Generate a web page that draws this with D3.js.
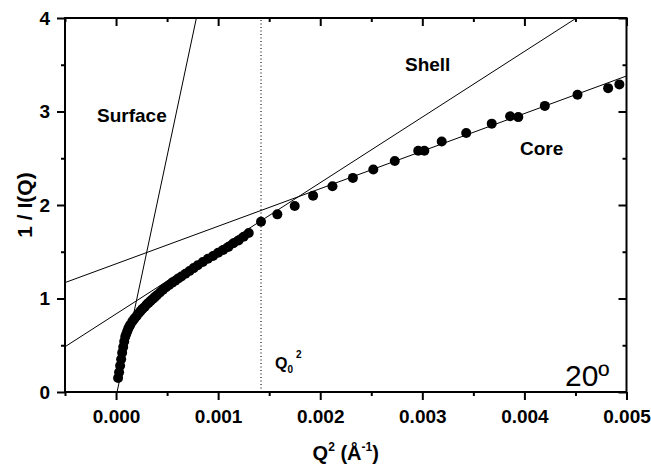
<!DOCTYPE html>
<html><head><meta charset="utf-8">
<script src="https://cdn.jsdelivr.net/npm/d3@7"></script>
<style>
body{margin:0;background:#fff;}
svg{display:block;}
text{font-family:"Liberation Sans",Arial,sans-serif;fill:#000;}
</style></head>
<body><svg id="c" width="651" height="468"></svg>
<script>
// Data (Q^2 in Å^-2, 1/I(Q))
const q2 = [0.00002,0.00003,0.00004,0.00005,0.00006,0.00007,0.00008,0.00009,0.0001,0.00011,0.00012,0.00013,0.00014,0.00016,0.00018,0.0002,0.00022,0.00024,0.00026,0.00028,0.0003,0.00032,0.00034,0.00036,0.00038,0.0004,0.00043,0.00046,0.00049,0.00052,0.00055,0.00058,0.00061,0.00064,0.00068,0.00072,0.00076,0.0008,0.00085,0.0009,0.00095,0.001,0.00105,0.0011,0.00115,0.0012,0.00125,0.0013,
  0.00142,0.00158,0.00175,0.00193,0.00212,0.00232,0.00252,0.00273,0.00296,0.00302,0.00319,0.00343,0.00368,0.00386,0.00394,0.0042,0.00452,0.00482,0.00493];
const invI = [0.15,0.21,0.28,0.35,0.42,0.48,0.54,0.59,0.62,0.65,0.68,0.70,0.72,0.755,0.785,0.81,0.84,0.865,0.89,0.91,0.935,0.955,0.975,0.995,1.015,1.035,1.065,1.095,1.12,1.145,1.17,1.19,1.215,1.235,1.265,1.295,1.325,1.355,1.39,1.425,1.455,1.49,1.52,1.55,1.59,1.62,1.66,1.70,
  1.82,1.90,1.99,2.10,2.20,2.29,2.38,2.47,2.58,2.58,2.68,2.77,2.87,2.95,2.94,3.06,3.18,3.25,3.29];
// Fitted straight lines, given by end points [Q^2, 1/I]
const surfaceLine = [[0.00001, 0.0], [0.000787, 4.0]];
const shellLine = [[-0.0005, 0.484], [0.00451, 4.0]];
const coreLine = [[-0.0005, 1.17], [0.005, 3.38]];
const q0sq = 0.00142;
// Axes
const xDomain = [-0.0005, 0.005];
const yDomain = [0, 4];
const xMajor = [0.000, 0.001, 0.002, 0.003, 0.004, 0.005];
const xMinor = [-0.0005, 0.0005, 0.0015, 0.0025, 0.0035, 0.0045];
const yMajor = [0, 1, 2, 3, 4];
const yMinor = [0.5, 1.5, 2.5, 3.5];
const xTickLabels = ["0.000","0.001","0.002","0.003","0.004","0.005"];
const yTickLabels = ["0","1","2","3","4"];

const svg = d3.select("#c");
const L = 65, R = 626.5, T = 18, B = 392;
const x = d3.scaleLinear().domain(xDomain).range([L, R]);
const y = d3.scaleLinear().domain(yDomain).range([B, T]);

svg.append("defs").append("clipPath").attr("id","clip")
  .append("rect").attr("x",L).attr("y",T).attr("width",R-L).attr("height",B-T);

const g = svg.append("g").attr("clip-path","url(#clip)");
const line = d3.line().x(d=>x(d[0])).y(d=>y(d[1]));

// dotted vertical line
g.append("line").attr("x1",x(q0sq)).attr("x2",x(q0sq)).attr("y1",y(0)).attr("y2",y(4))
  .attr("stroke","#000").attr("stroke-width",1.1).attr("stroke-dasharray","1.1,2.4");

[surfaceLine, shellLine, coreLine].forEach(l=>{
  g.append("path").attr("d",line(l)).attr("fill","none").attr("stroke","#000").attr("stroke-width",1);
});

const pts = q2.map((v,i)=>[v, invI[i]]);
g.selectAll("circle.pt").data(pts).enter().append("circle")
  .attr("cx",d=>x(d[0])).attr("cy",d=>y(d[1])).attr("r",5).attr("fill","#000");

// axes
svg.append("g").attr("transform",`translate(0,${B})`)
  .call(d3.axisBottom(x).tickValues(xMajor).tickSize(8).tickPadding(10).tickFormat(d=>xTickLabels[xMajor.indexOf(d)]));
svg.append("g").attr("transform",`translate(0,${B})`)
  .call(d3.axisBottom(x).tickValues(xMinor).tickSize(4).tickFormat(""));
svg.append("g").attr("transform",`translate(0,${T})`)
  .call(d3.axisBottom(x).tickValues(xMajor).tickSize(8).tickFormat(""));
svg.append("g").attr("transform",`translate(0,${T})`)
  .call(d3.axisBottom(x).tickValues(xMinor).tickSize(4).tickFormat(""));
svg.append("g").attr("transform",`translate(${L},0)`)
  .call(d3.axisLeft(y).tickValues(yMajor).tickSize(8).tickPadding(7).tickFormat(d=>yTickLabels[yMajor.indexOf(d)]));
svg.append("g").attr("transform",`translate(${L},0)`)
  .call(d3.axisLeft(y).tickValues(yMinor).tickSize(4).tickFormat(""));
svg.append("g").attr("transform",`translate(${R},0)`)
  .call(d3.axisLeft(y).tickValues(yMajor).tickSize(8).tickFormat(""));
svg.append("g").attr("transform",`translate(${R},0)`)
  .call(d3.axisLeft(y).tickValues(yMinor).tickSize(4).tickFormat(""));

svg.selectAll(".domain").remove();
svg.selectAll(".tick line").attr("stroke","#000").attr("stroke-width",2);
svg.selectAll(".tick text").attr("font-size",19).attr("font-weight","bold")
  .attr("font-family","'Liberation Sans', Arial, sans-serif").attr("fill","#000");

// frame
svg.append("rect").attr("x",L).attr("y",T).attr("width",R-L).attr("height",B-T)
  .attr("fill","none").attr("stroke","#000").attr("stroke-width",2);

// axis titles
svg.append("text").attr("transform",`translate(32,${(T+B)/2}) rotate(-90)`)
  .attr("text-anchor","middle").attr("font-size",21).attr("font-weight","bold").text("1 / I(Q)");
const xl = svg.append("text").attr("x",(L+R)/2).attr("y",460).attr("text-anchor","middle")
  .attr("font-size",20).attr("font-weight","bold");
xl.append("tspan").text("Q");
xl.append("tspan").attr("font-size",12).attr("dy",-9).text("2");
xl.append("tspan").attr("dy",9).text(" (Å");
xl.append("tspan").attr("font-size",12).attr("dy",-9).text("-1");
xl.append("tspan").attr("dy",9).text(")");

// annotations
const ann = (tx,ty,s,fs,bold)=>svg.append("text").attr("x",tx).attr("y",ty).attr("font-size",fs)
  .attr("font-weight",bold?"bold":"normal").text(s);
ann(97,122,"Surface",19,true);
ann(405,71,"Shell",19,true);
ann(520,155,"Core",19,true);
ann(565,386,"20º",30,false);
const q0 = svg.append("text").attr("x",275).attr("y",369).attr("font-size",16).attr("font-weight","bold");
q0.append("tspan").text("Q");
q0.append("tspan").attr("font-size",10).attr("dy",4).text("0");
q0.append("tspan").attr("font-size",10).attr("dx",3).attr("dy",-15).text("2");
</script></body></html>
